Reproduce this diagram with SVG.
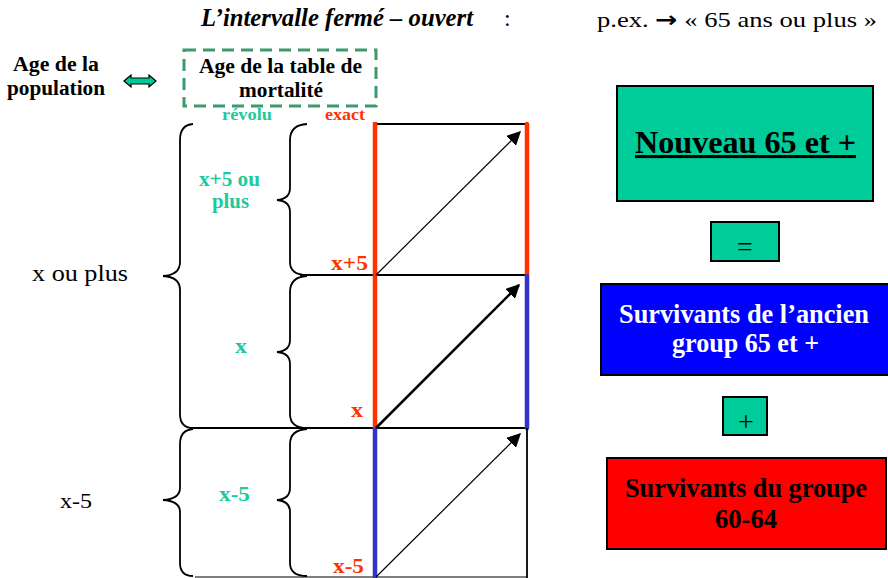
<svg xmlns="http://www.w3.org/2000/svg" width="888" height="578" viewBox="0 0 888 578">
<style>
text{font-family:'Liberation Serif','Times New Roman',serif}
.b{font-weight:bold}
.g{fill:#1ec99a}
.r{fill:#ff3300}
.br{fill:none;stroke:#000;stroke-width:1.8}
.ln{stroke:#000;stroke-width:1.8}
.box{stroke:#000;stroke-width:2}
</style>
<defs>
<marker id="ah" viewBox="0 0 10 10" refX="9" refY="5" markerWidth="14" markerHeight="14" markerUnits="userSpaceOnUse" orient="auto"><path d="M0,0 L10,5 L0,10 z" fill="#000"/></marker>
</defs>
<rect width="888" height="578" fill="#fff"/>
<g id="title">
<text class="b" x="201" y="26" font-size="25" font-style="italic" textLength="272" lengthAdjust="spacingAndGlyphs">L’intervalle fermé – ouvert</text>
<text x="504" y="26" font-size="24">:</text>
<text x="597" y="27" font-size="22" textLength="280" lengthAdjust="spacingAndGlyphs">p.ex. <tspan font-family="DejaVu Sans" font-weight="bold">→</tspan> « 65 ans ou plus »</text>
</g>
<g id="age-population">
<text class="b" x="13" y="71" font-size="20" textLength="86" lengthAdjust="spacingAndGlyphs">Age de la</text>
<text class="b" x="7" y="95" font-size="20" textLength="98" lengthAdjust="spacingAndGlyphs">population</text>
</g>
<g id="double-arrow">
<path d="M124,81 L131,75 L131,78 L149,78 L149,75 L156,81 L149,87 L149,84 L131,84 L131,87 Z" fill="#00c896" stroke="#000" stroke-width="1.2"/>
</g>
<g id="age-table">
<rect x="184" y="50" width="192" height="56" fill="none" stroke="#3c9a6c" stroke-width="3" stroke-dasharray="12,7"/>
<text class="b" x="199" y="73" font-size="20" textLength="163" lengthAdjust="spacingAndGlyphs">Age de la table de</text>
<text class="b" x="239" y="97" font-size="20" textLength="84" lengthAdjust="spacingAndGlyphs">mortalité</text>
</g>
<g id="labels">
<text class="b g" x="222" y="120" font-size="17" textLength="50" lengthAdjust="spacingAndGlyphs">révolu</text>
<text class="b r" x="325" y="120" font-size="17" textLength="40" lengthAdjust="spacingAndGlyphs">exact</text>
<text class="b g" x="199" y="186" font-size="20" textLength="61" lengthAdjust="spacingAndGlyphs">x+5 ou</text>
<text class="b g" x="212" y="208" font-size="20" textLength="37" lengthAdjust="spacingAndGlyphs">plus</text>
<text class="b g" x="235" y="353" font-size="22" textLength="12" lengthAdjust="spacingAndGlyphs">x</text>
<text class="b g" x="219" y="501" font-size="22" textLength="31" lengthAdjust="spacingAndGlyphs">x-5</text>
<text class="b r" x="331" y="270" font-size="22" textLength="37" lengthAdjust="spacingAndGlyphs">x+5</text>
<text class="b r" x="351" y="417" font-size="22" textLength="12" lengthAdjust="spacingAndGlyphs">x</text>
<text class="b r" x="333" y="573" font-size="22" textLength="31" lengthAdjust="spacingAndGlyphs">x-5</text>
<text x="32" y="281" font-size="23" textLength="96" lengthAdjust="spacingAndGlyphs">x ou plus</text>
<text x="60" y="508" font-size="22" textLength="32" lengthAdjust="spacingAndGlyphs">x-5</text>
</g>
<g id="connectors">
<line class="ln" x1="375" y1="124" x2="527" y2="124"/>
<line class="ln" x1="300" y1="275" x2="527" y2="275"/>
<line class="ln" x1="190" y1="428" x2="527" y2="428"/>
<line x1="195" y1="577" x2="527" y2="577" stroke="#000" stroke-width="1.2"/>
<path class="br" d="M193,124 Q180,125 180,140 L180,262 Q180,275 163,276 Q180,277 180,290 L180,414 Q180,428 193,428"/>
<path class="br" d="M193,429 Q180,430 180,444 L180,488 Q180,499 163,500 Q180,501 180,512 L180,563 Q180,576 193,576"/>
<path class="br" d="M307,124 Q290,125 290,140 L290,188 Q290,199 277,200 Q290,201 290,212 L290,262 Q290,275 307,275"/>
<path class="br" d="M307,276 Q290,277 290,292 L290,340 Q290,351 277,352 Q290,353 290,364 L290,414 Q290,428 307,428"/>
<path class="br" d="M307,429 Q290,430 290,444 L290,488 Q290,499 277,500 Q290,501 290,512 L290,563 Q290,576 307,576"/>
<line x1="375" y1="122" x2="375" y2="428" stroke="#ff3300" stroke-width="4.5"/>
<line x1="375" y1="428" x2="375" y2="578" stroke="#3333cc" stroke-width="4.5"/>
<line x1="527" y1="124" x2="527" y2="275" stroke="#ff3300" stroke-width="4.5" stroke-linecap="round"/>
<line x1="527" y1="276" x2="527" y2="428" stroke="#3333cc" stroke-width="4.5" stroke-linecap="round"/>
<line x1="527" y1="428" x2="527" y2="578" stroke="#000" stroke-width="1.8"/>
<line x1="376" y1="275" x2="520" y2="132" stroke="#000" stroke-width="1.2" marker-end="url(#ah)"/>
<line x1="376" y1="428" x2="519" y2="285" stroke="#000" stroke-width="2.6" marker-end="url(#ah)"/>
<line x1="376" y1="577" x2="520" y2="434" stroke="#000" stroke-width="1.2" marker-end="url(#ah)"/>
</g>
<g id="nouveau">
<rect class="box" x="617" y="86" width="256" height="115" fill="#00cc99"/>
<text class="b" x="635" y="153" font-size="31" textLength="221" lengthAdjust="spacingAndGlyphs" text-decoration="underline">Nouveau 65 et +</text>
</g>
<g id="equals">
<rect class="box" x="711" y="222" width="68" height="39" fill="#00cc99"/>
<text x="745" y="256" font-size="28" text-anchor="middle">=</text>
</g>
<g id="anciens">
<rect class="box" x="601" y="284" width="290" height="91" fill="#0000ff"/>
<text class="b" x="619" y="323" font-size="27" fill="#fff" textLength="250" lengthAdjust="spacingAndGlyphs">Survivants de l’ancien</text>
<text class="b" x="672" y="352" font-size="27" fill="#fff" textLength="147" lengthAdjust="spacingAndGlyphs">group 65 et +</text>
</g>
<g id="plus">
<rect class="box" x="723" y="397" width="44" height="38" fill="#00cc99"/>
<text x="746" y="431" font-size="28" text-anchor="middle">+</text>
</g>
<g id="groupe6064">
<rect class="box" x="607" y="458" width="279" height="91" fill="#ff0000"/>
<text class="b" x="625" y="497" font-size="27" textLength="242" lengthAdjust="spacingAndGlyphs">Survivants du groupe</text>
<text class="b" x="715" y="528" font-size="27" textLength="62" lengthAdjust="spacingAndGlyphs">60-64</text>
</g>
</svg>
